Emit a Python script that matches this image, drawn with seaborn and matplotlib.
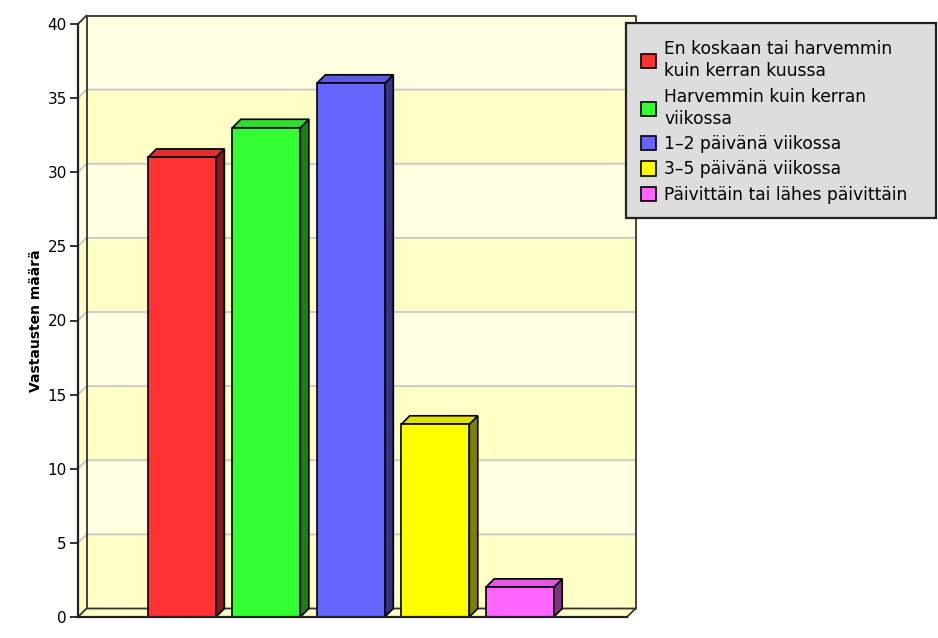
import numpy as np
import pandas as pd
import seaborn as sns
import matplotlib.pyplot as plt
from matplotlib.patches import Polygon, Patch, Rectangle
from matplotlib.colors import to_rgb

# data
categories = ['En koskaan tai harvemmin\nkuin kerran kuussa',
              'Harvemmin kuin kerran\nviikossa',
              '1–2 päivänä viikossa',
              '3–5 päivänä viikossa',
              'Päivittäin tai lähes päivittäin']
values = [31, 33, 36, 13, 2]
colors = ['#FF3333', '#33FF33', '#6666FF', '#FFFF00', '#FF66FF']
y_ticks = [0, 5, 10, 15, 20, 25, 30, 35, 40]
y_label = 'Vastausten määrä'

sns.set_style('white')
plt.rcParams['font.family'] = ['DejaVu Sans']
plt.rcParams['text.color'] = 'black'
plt.rcParams['axes.labelcolor'] = 'black'
plt.rcParams['ytick.color'] = 'black'

df = pd.DataFrame({'cat': categories, 'val': values})

fig = plt.figure(figsize=(9.38, 6.38), dpi=100)
W, H = 938, 638
ax = fig.add_axes([78 / W, 1 - 617 / H, (627 - 78) / W, (617 - 24) / H])

sns.barplot(data=df, x='cat', y='val', hue='cat', palette=colors, order=categories,
            hue_order=categories, width=0.805, edgecolor='black', linewidth=1.2,
            saturation=1, legend=False, ax=ax, zorder=3)

xmin, xmax = -1.23, 5.27
ax.set_xlim(xmin, xmax)
ax.set_ylim(0, 40)

# depth of the fake 3d in pixels -> data units
DEPTH = 8.5
p0 = ax.transData.transform((0, 0))
p1 = ax.transData.transform((1, 1))
ddx = DEPTH / (p1[0] - p0[0])
ddy = DEPTH / (p1[1] - p0[1])

# wall bands (left wall + back wall)
for i, v in enumerate(y_ticks[:-1]):
    c = '#FFFFC6' if i % 2 == 0 else '#FFFEE0'
    band = Polygon([(xmin, v), (xmin + ddx, v + ddy), (xmax + ddx, v + ddy),
                    (xmax + ddx, v + 5 + ddy), (xmin + ddx, v + 5 + ddy), (xmin, v + 5)],
                   closed=True, facecolor=c, edgecolor='none', zorder=0.5, clip_on=False)
    ax.add_patch(band)

# grid lines
for v in y_ticks[1:-1]:
    ax.plot([xmin, xmin + ddx, xmax + ddx], [v, v + ddy, v + ddy],
            color='#C8C8C8', lw=1.3, zorder=0.8, clip_on=False)

# back wall outline
ax.plot([xmin + ddx, xmin + ddx, xmax + ddx, xmax + ddx],
        [ddy, 40 + ddy, 40 + ddy, ddy], color='#333333', lw=1.3, zorder=1, clip_on=False)
ax.plot([xmin, xmin + ddx], [40, 40 + ddy], color='#333333', lw=1.3, zorder=1, clip_on=False)

# floor
floor = Polygon([(xmin, 0), (xmax, 0), (xmax + ddx, ddy), (xmin + ddx, ddy)], closed=True,
                facecolor='#FFFFC6', edgecolor='#333333', lw=1.3, zorder=1.2, clip_on=False)
ax.add_patch(floor)

# bar tops and sides
for bar, col in zip(ax.patches[:len(values)], colors):
    x, w, h = bar.get_x(), bar.get_width(), bar.get_height()
    rgb = np.array(to_rgb(col))
    top = Polygon([(x, h), (x + w, h), (x + w + ddx, h + ddy), (x + ddx, h + ddy)],
                  closed=True, facecolor=rgb * 0.88, edgecolor='black', lw=1.2, zorder=2.5,
                  clip_on=False)
    side = Polygon([(x + w, 0), (x + w + ddx, ddy), (x + w + ddx, h + ddy), (x + w, h)],
                   closed=True, facecolor=rgb * 0.5, edgecolor='black', lw=1.2, zorder=2.5,
                   clip_on=False)
    ax.add_patch(side)
    ax.add_patch(top)

sns.despine(ax=ax, top=True, right=True)
for s in ['left', 'bottom']:
    ax.spines[s].set_color('#222222')
    ax.spines[s].set_linewidth(1.6)
    ax.spines[s].set_zorder(4)
ax.set_facecolor('none')
ax.set_xticks([])
ax.set_yticks(y_ticks)
ax.tick_params(axis='y', left=True, length=6, width=1.3, color='#222222',
               labelsize=11, pad=2)
ax.set_xlabel('')
ax.set_ylabel(y_label, fontsize=10, fontweight='bold', labelpad=3)
ax.grid(False)

# legend box drawn in figure pixels, legend itself without frame
box = Rectangle((626 / W, 1 - 218 / H), (936 - 626) / W, (218 - 23) / H,
                transform=fig.transFigure, facecolor='#DDDDDD', edgecolor='#222222',
                lw=1.6, zorder=5)
fig.add_artist(box)

handles = [Patch(facecolor=c, edgecolor='black', lw=1.2) for c in colors]
leg = fig.legend(handles, categories, loc='upper left',
                 bbox_to_anchor=(641 / W, 1 - 40 / H), borderaxespad=0, borderpad=0,
                 fontsize=12.3, frameon=False,
                 handlelength=0.9, handleheight=0.9, handletextpad=0.45,
                 labelspacing=0.43)
leg.set_zorder(6)
for t in leg.get_texts():
    t.set_linespacing(1.3)

fig.savefig('out.png', dpi=100)
